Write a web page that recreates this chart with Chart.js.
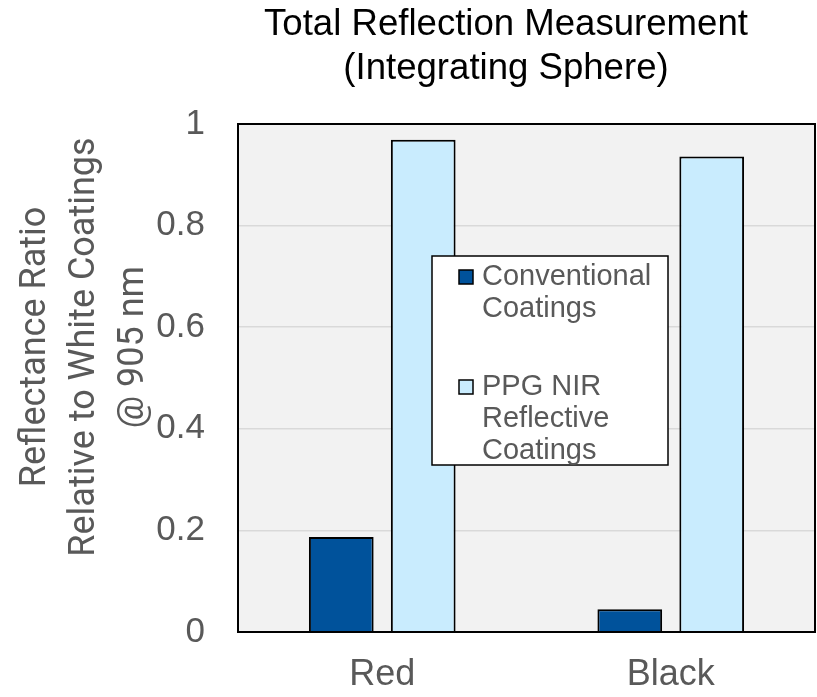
<!DOCTYPE html>
<html>
<head>
<meta charset="utf-8">
<script src="https://cdn.jsdelivr.net/npm/chart.js@4/dist/chart.umd.min.js"></script>
<style>
  body { margin: 0; background: #ffffff; }
  #wrap { width: 817px; height: 697px; }
</style>
</head>
<body>
<div id="wrap"><canvas id="reflChart" width="817" height="697"></canvas></div>
<script>
// Data
const categories = ["Red", "Black"];
const conventional = [0.187, 0.045];
const ppgNir = [0.969, 0.936];
const seriesNames = ["Conventional Coatings", "PPG NIR Reflective Coatings"];
const legendLines = [["Conventional", "Coatings"], ["PPG NIR", "Reflective", "Coatings"]];
const yTickLabels = ["0", "0.2", "0.4", "0.6", "0.8", "1"];
const titleLines = ["Total Reflection Measurement", "(Integrating Sphere)"];
const yTitleLines = ["Reflectance Ratio", "Relative to White Coatings", "@ 905 nm"];

const GREY = "#595959";

// plot background, frame, titles and legend box
const decor = {
  id: "decor",
  beforeDraw(chart) {
    const { ctx, chartArea: a } = chart;
    ctx.save();
    ctx.fillStyle = "#f2f2f2";
    ctx.fillRect(a.left, a.top, a.right - a.left, a.bottom - a.top);
    ctx.restore();
  },
  afterDraw(chart) {
    const { ctx, chartArea: a } = chart;
    ctx.save();

    // frame
    ctx.strokeStyle = "#000";
    ctx.lineWidth = 2;
    ctx.strokeRect(a.left, a.top, a.right - a.left, a.bottom - a.top);

    // chart title
    ctx.fillStyle = "#000";
    ctx.font = "36.6px 'Liberation Sans', Arial, sans-serif";
    ctx.textAlign = "center";
    ctx.textBaseline = "alphabetic";
    titleLines.forEach((t, i) => ctx.fillText(t, 506, 35 + i * 44));

    // y axis title, rotated
    ctx.save();
    ctx.translate(0, 347);
    ctx.rotate(-Math.PI / 2);
    ctx.fillStyle = GREY;
    ctx.font = "36px Roboto, sans-serif";
    ctx.textAlign = "center";
    yTitleLines.forEach((t, i) => ctx.fillText(t, 0, 45 + i * 49));
    ctx.restore();

    // legend
    const lx = a.left + 194, ly = a.top + 132, lw = 236, lh = 209;
    ctx.fillStyle = "#fff";
    ctx.fillRect(lx, ly, lw, lh);
    ctx.strokeStyle = "#000";
    ctx.lineWidth = 1.5;
    ctx.strokeRect(lx, ly, lw, lh);

    ctx.font = "29px 'Liberation Sans', Arial, sans-serif";
    ctx.textAlign = "left";
    const starts = [ly + 29, ly + 139];
    chart.data.datasets.forEach((ds, i) => {
      const base = starts[i];
      ctx.fillStyle = ds.backgroundColor;
      ctx.fillRect(lx + 27, base - 15, 14, 14);
      ctx.strokeStyle = "#000";
      ctx.lineWidth = 1.5;
      ctx.strokeRect(lx + 27, base - 15, 14, 14);
      ctx.fillStyle = GREY;
      legendLines[i].forEach((t, j) => ctx.fillText(t, lx + 50, base + j * 32));
    });
    ctx.restore();
  },
};

const ctx = document.getElementById("reflChart").getContext("2d");
new Chart(ctx, {
  type: "bar",
  data: {
    labels: categories,
    datasets: [
      {
        label: seriesNames[0],
        data: conventional,
        backgroundColor: "#00529b",
        borderColor: "#000",
        borderWidth: 2,
        categoryPercentage: 0.568,
        barPercentage: 0.79,
      },
      {
        label: seriesNames[1],
        data: ppgNir,
        backgroundColor: "#c9ecfe",
        borderColor: "#000",
        borderWidth: 2,
        categoryPercentage: 0.568,
        barPercentage: 0.79,
      },
    ],
  },
  options: {
    responsive: false,
    animation: false,
    layout: { padding: { top: 124, right: 2, left: 0, bottom: 0 } },
    plugins: {
      legend: { display: false },
      title: { display: false },
      tooltip: { enabled: false },
    },
    scales: {
      x: {
        afterFit: (s) => { s.height = 65; },
        grid: { display: false, drawTicks: false },
        border: { display: true, color: "#000", width: 2 },
        ticks: {
          color: GREY,
          font: { family: "'Liberation Sans', Arial, sans-serif", size: 36 },
          padding: 21,
        },
      },
      y: {
        min: 0,
        max: 1,
        afterFit: (s) => { s.width = 238; },
        grid: { color: "#d9d9d9", lineWidth: 1.5, drawTicks: false },
        border: { display: true, color: "#000", width: 2 },
        ticks: {
          stepSize: 0.2,
          color: GREY,
          padding: 33,
          font: { family: "'Liberation Sans', Arial, sans-serif", size: 35 },
          callback: (v, i) => yTickLabels[i],
        },
      },
    },
  },
  plugins: [decor],
});
</script>
</body>
</html>
